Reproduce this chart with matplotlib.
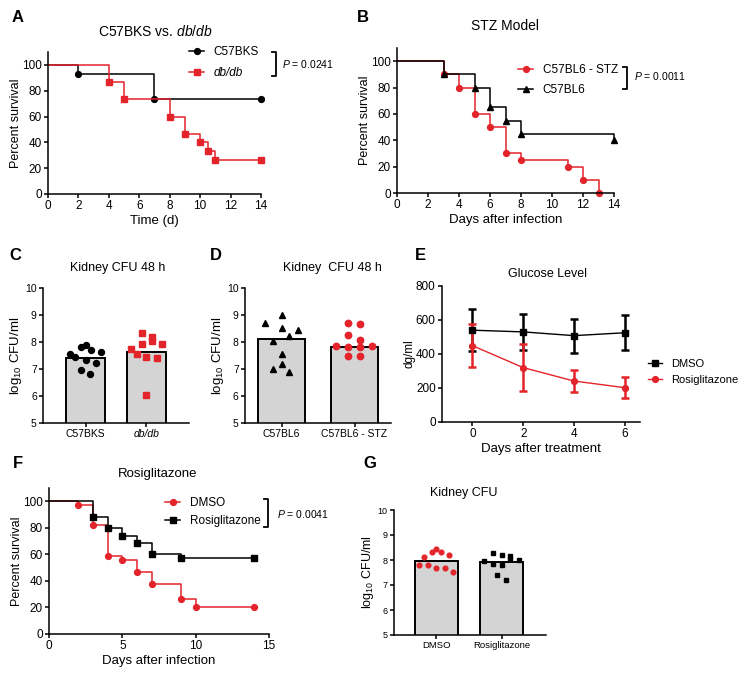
import matplotlib
matplotlib.use("Agg")
import matplotlib.pyplot as plt
from matplotlib.lines import Line2D
import numpy as np

plt.rcParams['font.family'] = ['Liberation Sans', 'DejaVu Sans']
plt.rcParams['mathtext.fontset'] = 'custom'
plt.rcParams['mathtext.rm'] = 'Liberation Sans'
plt.rcParams['mathtext.it'] = 'Liberation Sans:italic'
plt.rcParams['axes.linewidth'] = 1.1

RED = '#E3242B'
GREY = '#D4D4D4'

# ---- data ----
# A: C57BKS vs db/db survival
a_bks_t = [0, 2, 7, 14]
a_bks_s = [100, 93.3, 73.3, 73.3]
a_db_t = [0, 4, 5, 8, 9, 10, 10.5, 11, 14]
a_db_s = [100, 86.7, 73.3, 60, 46.7, 40, 33.3, 26.7, 26.7]

# B: STZ model survival
b_stz_t = [0, 3, 4, 5, 6, 7, 8, 11, 12, 13]
b_stz_s = [100, 90, 80, 60, 50, 30, 25, 20, 10, 0]
b_bl6_t = [0, 3, 5, 6, 7, 8, 14]
b_bl6_s = [100, 90, 80, 65, 55, 45, 40]

# C: kidney CFU 48 h
c_groups = ['C57BKS', 'db/db']
c_means = [7.42, 7.62]
c_bks = [7.57, 7.82, 7.90, 7.44, 7.35, 7.69, 7.63, 7.22, 6.98, 6.83]
c_bks_dx = [-0.26, -0.08, 0.0, -0.17, 0.0, 0.09, 0.26, 0.17, -0.08, 0.08]
c_db = [8.33, 7.74, 7.57, 7.91, 8.19, 8.04, 7.94, 7.44, 7.40, 6.04]
c_db_dx = [-0.08, -0.25, -0.16, -0.08, 0.09, 0.09, 0.26, 0.0, 0.17, 0.0]

# D: kidney CFU 48 h, STZ
d_groups = ['C57BL6', 'C57BL6 - STZ']
d_means = [8.12, 7.81]
d_bl6 = [8.70, 9.00, 8.51, 8.46, 8.05, 8.22, 7.54, 7.19, 7.00, 6.89]
d_bl6_dx = [-0.23, 0.0, 0.0, 0.22, -0.11, 0.10, 0.0, 0.0, -0.11, 0.10]
d_stz = [8.71, 8.65, 8.26, 8.09, 7.84, 7.81, 7.81, 7.84, 7.50, 7.48]
d_stz_dx = [-0.09, 0.07, -0.09, 0.07, -0.26, -0.09, 0.07, 0.24, -0.09, 0.07]

# E: glucose level
e_days = [0, 2, 4, 6]
e_dmso = [540, 530, 508, 525]
e_dmso_err = [125, 105, 100, 103]
e_rosi = [449, 320, 241, 202]
e_rosi_err = [126, 138, 62, 61]

# F: rosiglitazone survival
f_dmso_t = [0, 2, 3, 4, 5, 6, 7, 9, 10, 14]
f_dmso_s = [100, 97, 82, 58.5, 55.5, 46.5, 38, 26.5, 20.6, 20.6]
f_rosi_t = [0, 3, 4, 5, 6, 7, 9, 14]
f_rosi_s = [100, 88.5, 80, 74, 68.5, 60, 57, 57]

# G: kidney CFU
g_groups = ['DMSO', 'Rosiglitazone']
g_means = [7.96, 7.92]
g_dmso = [7.80, 8.12, 7.80, 8.34, 8.44, 8.30, 7.69, 7.69, 8.20, 7.53]
g_dmso_dx = [-0.27, -0.19, -0.13, -0.07, 0.0, 0.07, 0.0, 0.13, 0.19, 0.26]
g_rosi = [7.97, 8.27, 8.21, 8.15, 8.01, 7.86, 7.80, 8.03, 7.40, 7.22]
g_rosi_dx = [-0.27, -0.13, 0.0, 0.13, 0.27, -0.13, 0.0, 0.13, -0.07, 0.07]

W, H = 748, 692
fig = plt.figure(figsize=(W / 100, H / 100), dpi=100)


def px_axes(l, t, w, h):
    return fig.add_axes([l / W, 1 - (t + h) / H, w / W, h / H])


def ftext(x, y, s, **kw):
    kw.setdefault('ha', 'center')
    kw.setdefault('va', 'center')
    fig.text(x / W, 1 - y / H, s, **kw)


def style(ax, ls=8.5):
    for s in ['top', 'right']:
        ax.spines[s].set_visible(False)
    ax.tick_params(direction='out', length=3, width=1.1, labelsize=ls, pad=1.5)


def bracket(x, y0, y1):
    xs = [(x - 4) / W, x / W, x / W, (x - 4) / W]
    ys = [1 - y0 / H, 1 - y0 / H, 1 - y1 / H, 1 - y1 / H]
    fig.add_artist(Line2D(xs, ys, color='black', lw=1.3, transform=fig.transFigure))


def legend_at(ax, x, y, size=8.5, spacing=0.8, handles=None):
    kw = {}
    if handles is not None:
        kw['handles'] = handles
    return ax.legend(loc='upper left', bbox_to_anchor=(x / W, 1 - y / H),
                     bbox_transform=fig.transFigure, frameon=False, fontsize=size,
                     borderpad=0, borderaxespad=0, handlelength=1.3,
                     handletextpad=0.8, labelspacing=spacing, **kw)


def km(ax, t, s, color, marker, label, ms=4.2):
    ax.step(t, s, where='post', color=color, lw=1.1, clip_on=False)
    ax.plot(t[1:], s[1:], ls='none', marker=marker, color=color, ms=ms, clip_on=False)
    ax.plot([], [], color=color, marker=marker, ms=ms, lw=1.1, label=label)


def survival_axes(ax, xmax, xstep):
    style(ax)
    ax.set_xlim(0, xmax)
    ax.set_ylim(0, 110)
    ax.set_xticks(np.arange(0, xmax + 0.1, xstep))
    ax.set_yticks(np.arange(0, 101, 20))
    ax.set_ylabel('Percent survival', fontsize=9, labelpad=0)


def cfu_axes(ax, groups, means, pts, dxs, colors, markers, ls=7.5, xls=7.5, ms=4.3):
    style(ax, ls)
    ax.tick_params(axis='x', labelsize=xls)
    ax.bar([0, 1], means, width=0.65, bottom=0, color=GREY, edgecolor='black', lw=1.4,
           zorder=1)
    for i in range(2):
        ax.plot(np.array(dxs[i]) + i, pts[i], ls='none', marker=markers[i],
                color=colors[i], ms=ms, zorder=3, clip_on=False)
    ax.set_ylim(5, 10)
    ax.set_yticks(range(5, 11))
    ax.set_xticks([0, 1])
    ax.set_xticklabels(groups)


# ---- A ----
axA = px_axes(48, 52, 213, 142)
survival_axes(axA, 14, 2)
km(axA, a_bks_t, a_bks_s, 'black', 'o', 'C57BKS')
km(axA, a_db_t, a_db_s, RED, 's', 'db/db', ms=4)
axA.set_xlabel('Time (d)', fontsize=9.5, labelpad=2)
legend_at(axA, 189, 46, spacing=0.75)
axA.get_legend().get_texts()[1].set_style('italic')
bracket(276, 52, 76)
ftext(282, 64, '$P$ = 0.0241', ha='left', fontsize=7.5)
ftext(155, 31, 'C57BKS vs. $db/db$', fontsize=10)
ftext(18, 18, 'A', fontsize=12, fontweight='bold')

# ---- B ----
axB = px_axes(397, 48, 217, 145)
survival_axes(axB, 14, 2)
km(axB, b_stz_t, b_stz_s, RED, 'o', 'C57BL6 - STZ')
km(axB, b_bl6_t, b_bl6_s, 'black', '^', 'C57BL6', ms=4.6)
axB.set_xlabel('Days after infection', fontsize=9.5, labelpad=2)
legend_at(axB, 518, 64, spacing=0.7)
bracket(627, 67, 89)
ftext(634, 76, '$P$ = 0.0011', ha='left', fontsize=7.5)
ftext(505, 26, 'STZ Model', fontsize=10)
ftext(363, 18, 'B', fontsize=12, fontweight='bold')

# ---- C ----
axC = px_axes(43, 288, 146, 135)
cfu_axes(axC, c_groups, c_means, [c_bks, c_db], [c_bks_dx, c_db_dx],
         ['black', RED], ['o', 's'])
axC.set_xlim(-0.7, 1.7)
axC.get_xticklabels()[1].set_style('italic')
axC.set_ylabel('log$_{10}$ CFU/ml', fontsize=9.5, labelpad=1)
ftext(118, 268, 'Kidney CFU 48 h', fontsize=9)
ftext(15, 256, 'C', fontsize=12, fontweight='bold')

# ---- D ----
axD = px_axes(245, 288, 146, 135)
cfu_axes(axD, d_groups, d_means, [d_bl6, d_stz], [d_bl6_dx, d_stz_dx],
         ['black', RED], ['^', 'o'], ms=4.6)
axD.set_xlim(-0.5, 1.5)
axD.set_ylabel('log$_{10}$ CFU/ml', fontsize=9.5, labelpad=1)
ftext(332, 268, 'Kidney  CFU 48 h', fontsize=9)
ftext(216, 256, 'D', fontsize=12, fontweight='bold')

# ---- E ----
axE = px_axes(442, 286, 198, 136)
style(axE)
axE.errorbar(e_days, e_dmso, yerr=e_dmso_err, color='black', marker='s', ms=4,
             lw=1, elinewidth=1.8, capsize=3, capthick=1.8, clip_on=False)
axE.errorbar(e_days, e_rosi, yerr=e_rosi_err, color=RED, marker='o', ms=4.2,
             lw=1, elinewidth=1.8, capsize=3, capthick=1.8, clip_on=False)
axE.set_xlim(-1.2, 6.6)
axE.set_ylim(0, 800)
axE.set_xticks(e_days)
axE.set_yticks(range(0, 801, 200))
axE.set_xlabel('Days after treatment', fontsize=9.5, labelpad=2)
axE.set_ylabel('dg/ml', fontsize=8.5, labelpad=0)
e_handles = [Line2D([], [], color='black', marker='s', ms=4, lw=1, label='DMSO'),
             Line2D([], [], color=RED, marker='o', ms=4.2, lw=1, label='Rosiglitazone')]
legend_at(axE, 648, 359, size=8, spacing=0.55, handles=e_handles)
ftext(548, 274, 'Glucose Level', fontsize=9)
ftext(420, 256, 'E', fontsize=12, fontweight='bold')

# ---- F ----
axF = px_axes(49, 488, 220, 146)
survival_axes(axF, 15, 5)
km(axF, f_dmso_t, f_dmso_s, RED, 'o', 'DMSO')
km(axF, f_rosi_t, f_rosi_s, 'black', 's', 'Rosiglitazone', ms=4)
axF.set_xlabel('Days after infection', fontsize=9.5, labelpad=2)
legend_at(axF, 165, 497, spacing=0.55)
bracket(268, 499, 527)
ftext(277, 514, '$P$ = 0.0041', ha='left', fontsize=7.5)
ftext(158, 474, 'Rosiglitazone', fontsize=9.5)
ftext(18, 463, 'F', fontsize=12, fontweight='bold')

# ---- G ----
axG = px_axes(394, 510, 152, 125)
cfu_axes(axG, g_groups, g_means, [g_dmso, g_rosi], [g_dmso_dx, g_rosi_dx],
         [RED, 'black'], ['o', 's'], ls=6.5, xls=6.8, ms=3.4)
axG.set_xlim(-0.65, 1.68)
axG.set_ylabel('log$_{10}$ CFU/ml', fontsize=9, labelpad=1)
ftext(464, 493, 'Kidney CFU', fontsize=9)
ftext(370, 463, 'G', fontsize=12, fontweight='bold')

fig.savefig('out.png', dpi=100)
